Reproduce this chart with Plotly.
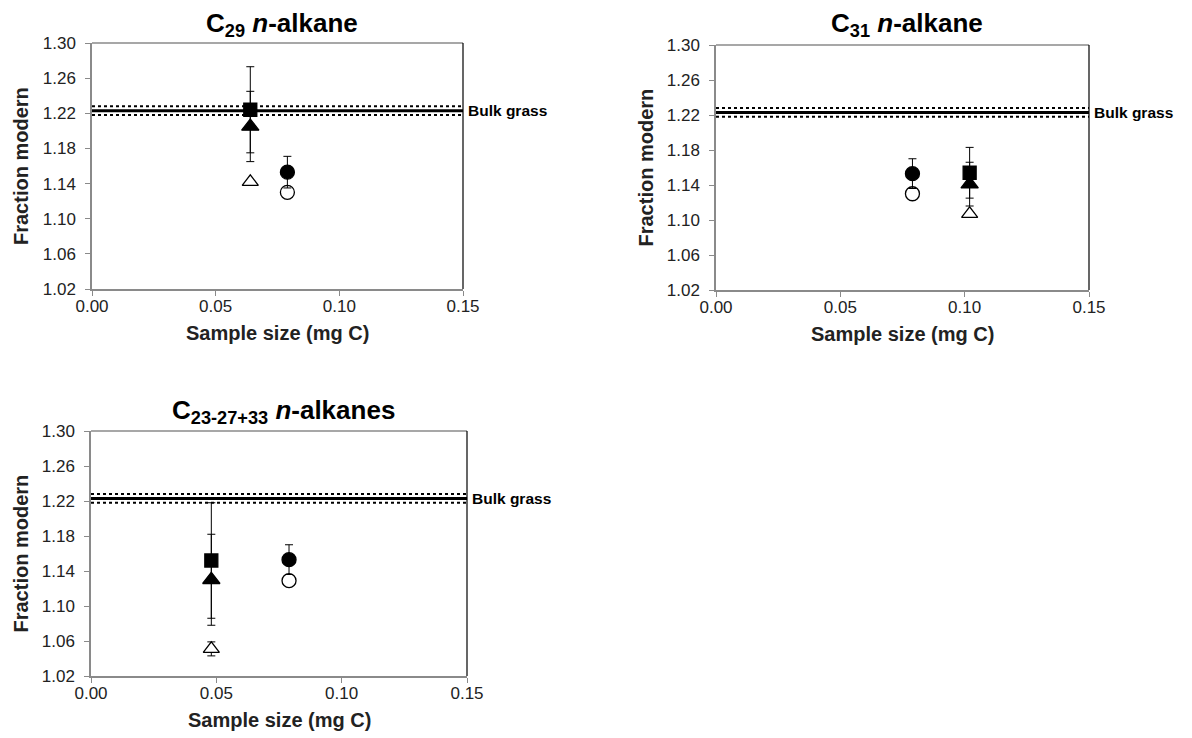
import plotly.graph_objects as go

# ---------------- data ----------------
BULK = 1.223
BULK_ERR = 0.005

# Panel 1: C29 n-alkane
p1_sq_x, p1_sq_y, p1_sq_e = [0.064], [1.224], [0.049]
p1_tri_x, p1_tri_y, p1_tri_e = [0.064], [1.205], [0.040]
p1_otri_x, p1_otri_y = [0.064], [1.142]
p1_circ_x, p1_circ_y, p1_circ_e = [0.079], [1.153], [0.018]
p1_ocirc_x, p1_ocirc_y = [0.079], [1.130]

# Panel 2: C31 n-alkane
p2_sq_x, p2_sq_y, p2_sq_e = [0.102], [1.154], [0.029]
p2_tri_x, p2_tri_y, p2_tri_e = [0.102], [1.141], [0.025]
p2_otri_x, p2_otri_y = [0.102], [1.107]
p2_circ_x, p2_circ_y, p2_circ_e = [0.079], [1.153], [0.017]
p2_ocirc_x, p2_ocirc_y = [0.079], [1.130]

# Panel 3: C23-27+33 n-alkanes
p3_sq_x, p3_sq_y, p3_sq_e = [0.048], [1.152], [0.066]
p3_tri_x, p3_tri_y, p3_tri_e = [0.048], [1.130], [0.052]
p3_otri_x, p3_otri_y, p3_otri_e = [0.048], [1.051], [0.008]
p3_circ_x, p3_circ_y, p3_circ_e = [0.079], [1.153], [0.017]
p3_ocirc_x, p3_ocirc_y = [0.079], [1.129]

titles = ["C<sub>29</sub> <i>n</i>-alkane", "C<sub>31</sub> <i>n</i>-alkane",
          "C<sub>23-27+33</sub> <i>n</i>-alkanes"]
x_title = "Sample size (mg C)"
y_title = "Fraction modern"
bulk_label = "Bulk grass"
x_ticks = [0.00, 0.05, 0.10, 0.15]
y_ticks = [1.02, 1.06, 1.10, 1.14, 1.18, 1.22, 1.26, 1.30]
X_RANGE = [0.0, 0.15]
Y_RANGE = [1.02, 1.30]

W, H = 1192, 738
OFF = 8  # page body margin
# plot-area boxes in page pixels: (left, right, top, bottom)
boxes = [(92, 463, 43, 289), (716, 1089, 45, 290), (91, 467, 431, 676)]
title_y = [25, 25, 411]


def PX(px):
    return (px - OFF) / W


def PY(py):
    return 1 - (py - OFF) / H


fig = go.Figure()
FONT = "Liberation Sans, Arial, sans-serif"


def err(e, color="black"):
    if e is None:
        return None
    return dict(type="data", array=e, visible=True, color=color, thickness=1, width=4)


def add_panel(i, data):
    xa = "x" if i == 0 else f"x{i+1}"
    ya = "y" if i == 0 else f"y{i+1}"
    for yy, w, d in [(BULK + BULK_ERR, 2, "dot"), (BULK - BULK_ERR, 2, "dot"), (BULK, 3, "solid")]:
        fig.add_trace(go.Scatter(x=X_RANGE, y=[yy] * 2, mode="lines",
                                 line=dict(color="black", width=w, dash=d),
                                 xaxis=xa, yaxis=ya, showlegend=False, hoverinfo="skip"))
    for (x, y, e, sym, fill, size) in data:
        fig.add_trace(go.Scatter(
            x=x, y=y, mode="markers", error_y=err(e),
            marker=dict(symbol=sym, size=size, color=fill,
                        line=dict(color="black", width=1.3)),
            xaxis=xa, yaxis=ya, showlegend=False, cliponaxis=False))


add_panel(0, [
    (p1_otri_x, p1_otri_y, None, "triangle-up", "white", 14),
    (p1_ocirc_x, p1_ocirc_y, None, "circle", "white", 14),
    (p1_circ_x, p1_circ_y, p1_circ_e, "circle", "black", 14),
    (p1_tri_x, p1_tri_y, p1_tri_e, "triangle-up", "black", 15),
    (p1_sq_x, p1_sq_y, p1_sq_e, "square", "black", 13),
])
add_panel(1, [
    (p2_otri_x, p2_otri_y, None, "triangle-up", "white", 14),
    (p2_ocirc_x, p2_ocirc_y, None, "circle", "white", 14),
    (p2_circ_x, p2_circ_y, p2_circ_e, "circle", "black", 14),
    (p2_tri_x, p2_tri_y, p2_tri_e, "triangle-up", "black", 15),
    (p2_sq_x, p2_sq_y, p2_sq_e, "square", "black", 13),
])
add_panel(2, [
    (p3_otri_x, p3_otri_y, p3_otri_e, "triangle-up", "white", 14),
    (p3_ocirc_x, p3_ocirc_y, None, "circle", "white", 14),
    (p3_circ_x, p3_circ_y, p3_circ_e, "circle", "black", 14),
    (p3_tri_x, p3_tri_y, p3_tri_e, "triangle-up", "black", 15),
    (p3_sq_x, p3_sq_y, p3_sq_e, "square", "black", 13),
])

layout = dict(width=W, height=H, margin=dict(l=0, r=0, t=0, b=0, autoexpand=False),
              plot_bgcolor="white", paper_bgcolor="white",
              font=dict(family=FONT, size=16, color="#222"))
annotations = []
shapes = []
AXC = "#8a8a8a"
for i, (l, r, t, b) in enumerate(boxes):
    xk = "xaxis" if i == 0 else f"xaxis{i+1}"
    yk = "yaxis" if i == 0 else f"yaxis{i+1}"
    ya = "y" if i == 0 else f"y{i+1}"
    xa = "x" if i == 0 else f"x{i+1}"
    layout[xk] = dict(domain=[PX(l), PX(r)], range=X_RANGE, anchor=ya,
                      tickvals=x_ticks, tickformat=".2f", ticks="outside",
                      ticklen=5, tickcolor=AXC, showline=True, linecolor=AXC,
                      linewidth=1.5, showgrid=False, zeroline=False, automargin=False,
                      ticklabelstandoff=-4,
                      tickfont=dict(size=17, color="#222"))
    layout[yk] = dict(domain=[PY(b), PY(t)], range=Y_RANGE, anchor=xa,
                      tickvals=y_ticks, tickformat=".2f", ticks="outside",
                      ticklen=5, tickcolor=AXC, showline=True, linecolor=AXC,
                      linewidth=1.5, showgrid=False, zeroline=False, automargin=False,
                      ticklabelstandoff=6,
                      tickfont=dict(size=17, color="#222"))
    # top (gray) and right (black) frame
    shapes.append(dict(type="line", xref="paper", yref="paper",
                       x0=PX(l), x1=PX(r), y0=PY(t), y1=PY(t),
                       line=dict(color=AXC, width=1.5)))
    shapes.append(dict(type="line", xref="paper", yref="paper",
                       x0=PX(r), x1=PX(r), y0=PY(t), y1=PY(b),
                       line=dict(color="black", width=1.2)))
    annotations.append(dict(text=f"<b>{titles[i]}</b>", xref="paper", yref="paper",
                            x=PX((l + r) / 2 + 4), y=PY(title_y[i]),
                            xanchor="center", yanchor="middle",
                            showarrow=False, font=dict(size=26, color="black")))
    annotations.append(dict(text=f"<b>{bulk_label}</b>", xref="paper", yref=ya,
                            x=PX(r + 3), y=BULK, xanchor="left", yanchor="middle",
                            showarrow=False, font=dict(size=15.5, color="black")))
    annotations.append(dict(text=f"<b>{x_title}</b>", xref="paper", yref="paper",
                            x=PX((l + r) / 2), y=PY(b + 44),
                            xanchor="center", yanchor="middle",
                            showarrow=False, font=dict(size=20, color="#222")))
    annotations.append(dict(text=f"<b>{y_title}</b>", xref="paper", yref="paper",
                            x=PX(l - 71), y=PY((t + b) / 2), xanchor="center",
                            yanchor="middle", textangle=-90,
                            showarrow=False, font=dict(size=20, color="#222")))

layout["annotations"] = annotations
layout["shapes"] = shapes
fig.update_layout(**layout)
fig.write_html("out.html")
